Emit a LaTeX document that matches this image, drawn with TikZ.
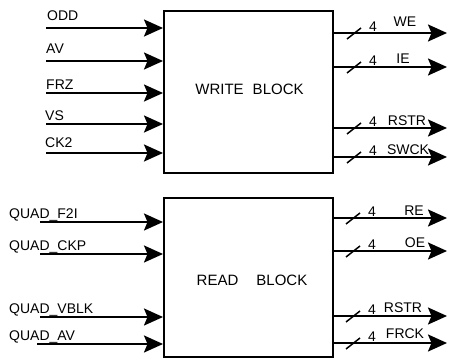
\documentclass[tikz,border=0pt]{standalone}
\usepackage{fontspec}
\setmainfont{Liberation Sans}
\usetikzlibrary{arrows.meta}
\begin{document}
\begin{tikzpicture}[x=1pt,y=-1pt,
  sig/.style={line width=2.1pt,-{Stealth[length=19pt,width=17pt,inset=3.5pt]}},
  blk/.style={draw,line width=1.8pt,anchor=north west,inner sep=0pt},
  blktxt/.style={inner sep=0pt,font=\fontsize{15}{18}\selectfont},
  lab/.style={anchor=base west,inner sep=0pt,font=\fontsize{14}{16}\selectfont},
  olab/.style={anchor=base,inner sep=0pt,font=\fontsize{14}{16}\selectfont},
  busw/.style={anchor=base west,inner sep=0pt,font=\fontsize{14}{16}\selectfont},
  slash/.style={line width=1.5pt}]
\useasboundingbox (0,0) rectangle (449,358);
% blocks
\node[blk,minimum width=169pt,minimum height=162pt] (wb) at (163,10) {};
\node[blk,minimum width=169pt,minimum height=159pt] (rb) at (163,197) {};
\node[blktxt] (wbt) at (249.5,89) {WRITE\hspace{9pt}BLOCK};
\node[blktxt] (rbt) at (252,280) {READ\hspace{18pt}BLOCK};
% write inputs
\foreach \n/\y/\b/\x in {ODD/28/21/47, AV/61/54/46, FRZ/93/90/46, VS/124/121/45, CK2/153/148/45}{
  \coordinate (in\n) at (46,\y);
  \node[lab] (l\n) at (\x,\b) {\n};
  \draw[sig] (in\n) -- (in\n -| wb.west);
}
% read inputs
\foreach \n/\y/\s in {F2I/222/40, CKP/254/40, VBLK/317/40, AV/344/37}{
  \coordinate (rin\n) at (\s,\y);
  \node[lab] (rl\n) at (9,\y-4) {QUAD\_\n};
  \draw[sig] (rin\n) -- (rin\n -| rb.west);
}
% write outputs
\foreach \n/\y/\b/\c in {WE/33/27/405, IE/67/64/403, RSTR/128/126/407, SWCK/157/154/408}{
  \coordinate (wo\n) at (447,\y);
  \draw[sig] (wo\n -| wb.east) -- (wo\n);
  \draw[slash] (347,\y+6) -- (361,\y-5);
  \node[busw] (wn\n) at (369,\y-1.5) {4};
  \node[olab] (wl\n) at (\c,\b) {\n};
}
% read outputs
\foreach \n/\y/\b/\c in {RE/218/215/414, OE/251/247/415, RSTR/316/312/403, FRCK/343/338/405}{
  \coordinate (ro\n) at (447,\y);
  \draw[sig] (ro\n -| rb.east) -- (ro\n);
  \draw[slash] (346,\y+6) -- (360,\y-5);
  \node[busw] (rn\n) at (368,\y-1.5) {4};
  \node[olab] (rl\n) at (\c,\b) {\n};
}
\end{tikzpicture}
\end{document}
